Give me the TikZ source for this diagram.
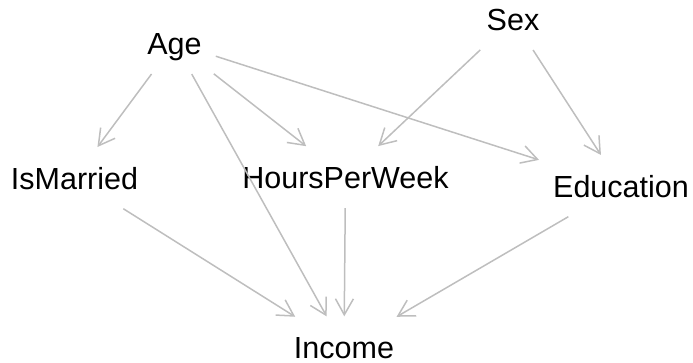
\documentclass[tikz,border=0pt]{standalone}
\usepackage{fontspec}
\setmainfont{Liberation Sans}
\usetikzlibrary{arrows.meta}
\definecolor{edgegray}{HTML}{BEBEBE}
\tikzset{
  var/.style={font=\fontsize{30.5}{32}\selectfont, text height=22pt, text depth=0pt,
    inner xsep=13pt, inner ysep=19pt, anchor=base},
  dep/.style={draw=edgegray, line width=1.5pt,
    -{Straight Barb[length=16pt,width=18pt,line width=1.5pt]}, shorten <=1pt, shorten >=1pt}
}
\begin{document}
\begin{tikzpicture}[x=1pt,y=-1pt]
\useasboundingbox (0,0) rectangle (693,362);
\node[var] (age) at (174.5,54) {Age};
\node[var] (sex) at (513,30) {Sex};
\node[var] (mar) at (74.5,189) {IsMarried};
\node[var] (hpw) at (345.5,188) {HoursPerWeek};
\node[var] (edu) at (621,197) {Education};
\node[var] (inc) at (344,358.5) {Income};

\draw[dep] (age) -- (mar);
\draw[dep] (age) -- (inc);
\draw[dep] (age) -- (hpw);
\draw[dep] (age) -- (edu);
\draw[dep] (sex) -- (hpw);
\draw[dep] (sex) -- (edu);
\draw[dep] (mar) -- (inc);
\draw[dep] (hpw) -- (inc);
\draw[dep] (edu) -- (inc);
\end{tikzpicture}
\end{document}
